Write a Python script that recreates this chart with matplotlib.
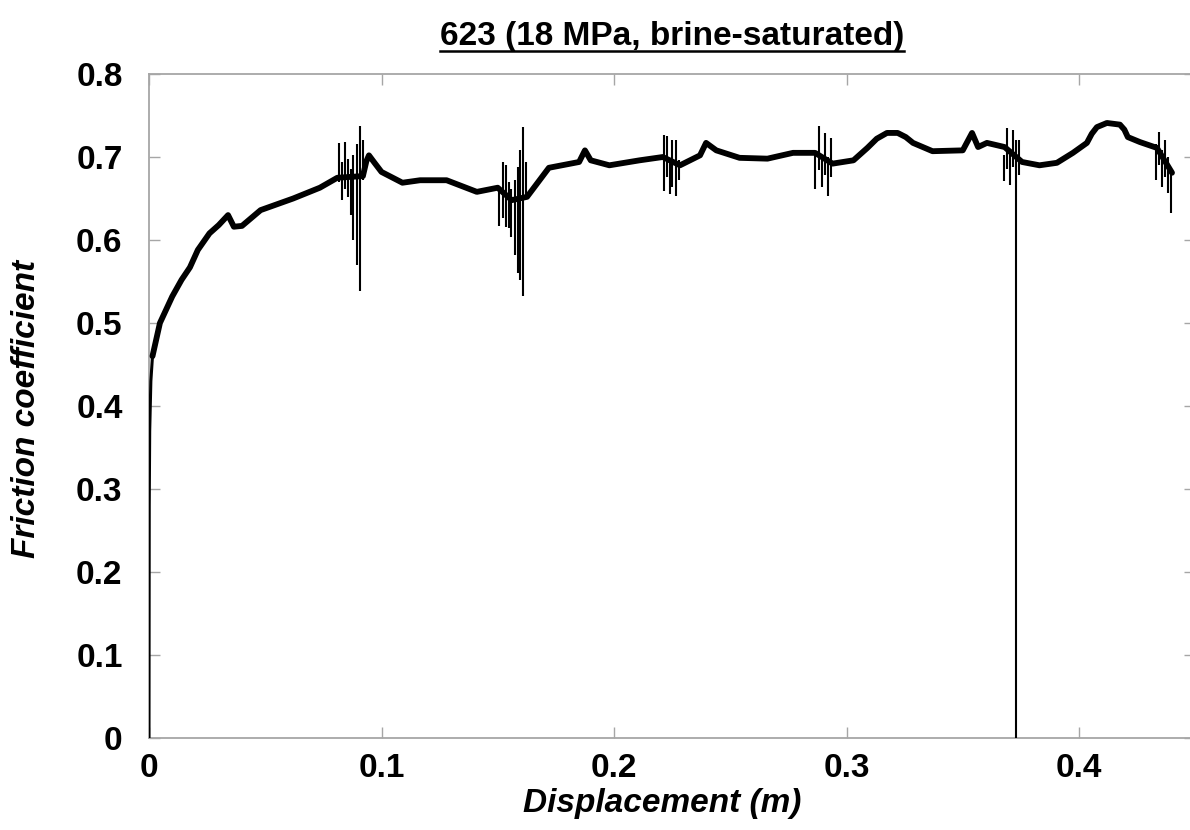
import matplotlib
matplotlib.use("Agg")
import matplotlib.pyplot as plt
from matplotlib.lines import Line2D
from matplotlib.ticker import FuncFormatter

plt.rcParams['font.family'] = ['Liberation Sans', 'DejaVu Sans']

# ---- data ----
displacement = [0.0, 0.0001, 0.0003, 0.0008, 0.0015, 0.0047, 0.010, 0.014, 0.0176, 0.021,
                0.026, 0.030, 0.034, 0.0365, 0.040, 0.048, 0.062, 0.0735, 0.081, 0.092,
                0.0935, 0.0946, 0.097, 0.100, 0.109, 0.1166, 0.128, 0.141, 0.150, 0.156,
                0.1626, 0.172, 0.185, 0.1875, 0.190, 0.198, 0.211, 0.221, 0.2284, 0.237,
                0.2396, 0.244, 0.254, 0.266, 0.277, 0.2865, 0.294, 0.303, 0.309, 0.313,
                0.3174, 0.322, 0.3255, 0.3286, 0.337, 0.350, 0.354, 0.3566, 0.3604, 0.368,
                0.3755, 0.383, 0.3905, 0.3974, 0.4034, 0.4055, 0.4077, 0.412, 0.4176, 0.4195,
                0.421, 0.4262, 0.4335, 0.440]
friction = [0.0, 0.28, 0.37, 0.43, 0.46, 0.500, 0.532, 0.552, 0.567, 0.588,
            0.608, 0.618, 0.630, 0.616, 0.617, 0.636, 0.650, 0.663, 0.675, 0.677,
            0.695, 0.702, 0.693, 0.682, 0.669, 0.672, 0.672, 0.658, 0.663, 0.648,
            0.652, 0.687, 0.694, 0.708, 0.696, 0.690, 0.696, 0.700, 0.690, 0.702,
            0.717, 0.708, 0.699, 0.698, 0.705, 0.705, 0.692, 0.696, 0.711, 0.722,
            0.729, 0.729, 0.724, 0.717, 0.707, 0.708, 0.729, 0.712, 0.717, 0.712,
            0.694, 0.690, 0.693, 0.705, 0.717, 0.728, 0.736, 0.741, 0.739, 0.733,
            0.724, 0.718, 0.711, 0.681]

# stick-slip spikes: position, upper and lower extent
spike_x = [0.0817, 0.0830, 0.0843, 0.0854, 0.0867, 0.0878, 0.0893, 0.0908, 0.0920,
           0.1507, 0.1521, 0.1534, 0.1547, 0.1558, 0.1573, 0.1586, 0.1597, 0.1610, 0.1623,
           0.2215, 0.2227, 0.2240, 0.2251, 0.2265, 0.2278,
           0.2866, 0.2880, 0.2893, 0.2906, 0.2919, 0.2932,
           0.3679, 0.3689, 0.3703, 0.3716, 0.3729, 0.3743,
           0.4330, 0.4345, 0.4357, 0.4370, 0.4381, 0.4397]
spike_hi = [0.717, 0.694, 0.718, 0.698, 0.686, 0.702, 0.716, 0.737, 0.721,
            0.662, 0.694, 0.690, 0.670, 0.662, 0.672, 0.688, 0.708, 0.736, 0.694,
            0.727, 0.725, 0.698, 0.721, 0.720, 0.696,
            0.704, 0.737, 0.700, 0.729, 0.700, 0.723,
            0.702, 0.735, 0.704, 0.732, 0.720, 0.720,
            0.716, 0.730, 0.708, 0.721, 0.700, 0.686]
spike_lo = [0.670, 0.648, 0.662, 0.652, 0.630, 0.600, 0.570, 0.538, 0.672,
            0.617, 0.626, 0.616, 0.614, 0.604, 0.582, 0.560, 0.552, 0.533, 0.652,
            0.659, 0.676, 0.656, 0.664, 0.653, 0.672,
            0.661, 0.684, 0.664, 0.678, 0.653, 0.676,
            0.671, 0.686, 0.666, 0.688, 0.000, 0.678,
            0.672, 0.690, 0.664, 0.676, 0.657, 0.632]

x_ticks = [0, 0.1, 0.2, 0.3, 0.4]
y_ticks = [0, 0.1, 0.2, 0.3, 0.4, 0.5, 0.6, 0.7, 0.8]
title = "623 (18 MPa, brine-saturated)"
xlabel = "Displacement (m)"
ylabel = "Friction coefficient"

# ---- figure ----
W, H = 1190, 830
fig = plt.figure(figsize=(W / 100, H / 100), dpi=100)
ax = fig.add_axes([149 / W, 92 / H, 1046.25 / W, 664 / H])

n_thin = 4
ax.plot(displacement[:n_thin + 1], friction[:n_thin + 1], color='black', lw=2.2,
        solid_capstyle='butt', solid_joinstyle='round', zorder=3)
ax.plot(displacement[n_thin:], friction[n_thin:], color='black', lw=4.2,
        solid_joinstyle='round', solid_capstyle='round', zorder=3)
ax.vlines(spike_x, spike_lo, spike_hi, color='black', lw=1.5, zorder=4)

ax.set_xlim(0, 0.45)
ax.set_ylim(0, 0.8)
ax.set_xticks(x_ticks)
ax.set_yticks(y_ticks)
fmt = FuncFormatter(lambda v, p: f"{v:g}")
ax.xaxis.set_major_formatter(fmt)
ax.yaxis.set_major_formatter(fmt)

grey = '#a6a6a6'
for s in ax.spines.values():
    s.set_color(grey)
    s.set_linewidth(1.3)
ax.tick_params(axis='both', which='major', direction='in', length=8, width=1.0,
               color=grey, top=True, right=True, labelsize=24)
ax.tick_params(axis='y', pad=19)
ax.tick_params(axis='x', pad=11)
for lab in ax.get_xticklabels() + ax.get_yticklabels():
    lab.set_fontweight('bold')

fig.text(662 / W, 1 - 812 / H, xlabel, ha='center', va='baseline', fontsize=24,
         fontweight='bold', fontstyle='italic')
fig.text(27 / W, 1 - 409 / H, ylabel, ha='center', va='center', rotation=90,
         fontsize=24, fontweight='bold', fontstyle='italic')
t = fig.text(672 / W, 1 - 45 / H, title, ha='center', va='baseline', fontsize=24,
             fontweight='bold')

fig.canvas.draw()
bb = t.get_window_extent()
uy = (H - 51) / H
fig.add_artist(Line2D([bb.x0 / W, bb.x1 / W], [uy, uy], color='black', lw=1.8,
                      transform=fig.transFigure))

fig.savefig("out.png", dpi=100)
